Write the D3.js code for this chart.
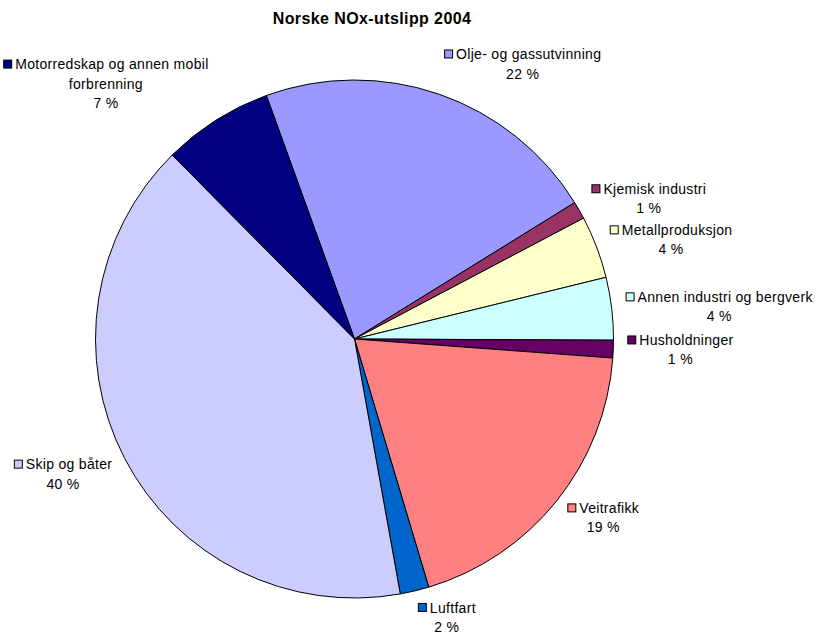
<!DOCTYPE html>
<html>
<head>
<meta charset="utf-8">
<script src="https://cdn.jsdelivr.net/npm/d3@7"></script>
<style>
  body { margin: 0; background: #fff; }
  text { font-family: Arial, "Liberation Sans", sans-serif; fill: #000; }
</style>
</head>
<body>
<script>
// Norske NOx-utslipp 2004, share per source (percent)
const categories = ['Olje- og gassutvinning', 'Kjemisk industri', 'Metallproduksjon',
  'Annen industri og bergverk', 'Husholdninger', 'Veitrafikk', 'Luftfart',
  'Skip og båter', 'Motorredskap og annen mobil forbrenning'];
const values = [21.7, 1.1, 3.9, 3.9, 1.1, 19.2, 1.8, 40.4, 6.9];
const colors = ['#9999FF', '#993366', '#FFFFCC', '#CCFFFF', '#660066',
  '#FF8080', '#0066CC', '#CCCCFF', '#000080'];

var width = 816, height = 635;
var cx = 354.5, cy = 339, radius = 259;
var startDeg = -19.9;

const data = categories.map(function(c, i) {
  return { name: c, value: values[i], color: colors[i] };
});
const total = d3.sum(values);

const svg = d3.select('body').append('svg')
  .attr('width', width)
  .attr('height', height);

svg.append('text')
  .attr('x', 372)
  .attr('y', 24)
  .attr('text-anchor', 'middle')
  .style('font-size', '16px')
  .style('font-weight', 'bold')
  .style('letter-spacing', '0.4px')
  .text('Norske NOx-utslipp 2004');

const pie = d3.pie()
  .sort(null)
  .value(function(d) { return d.value; })
  .startAngle(startDeg * Math.PI / 180)
  .endAngle((startDeg + 360) * Math.PI / 180);

const arc = d3.arc().innerRadius(0).outerRadius(radius);

const g = svg.append('g').attr('transform', 'translate(' + cx + ',' + cy + ')');

const arcs = pie(data);

g.selectAll('.slice')
  .data(arcs)
  .enter()
    .append('path')
    .attr('class', 'slice')
    .attr('d', arc)
    .attr('fill', function(d) { return d.data.color; })
    .attr('stroke', '#000')
    .attr('stroke-width', 1)
    .attr('stroke-linejoin', 'round');

// labels: square + name, then percent underneath, placed outside the slice
var fontSize = 14, spacing = '0.3px', lineH = 19.5, sq = 9, maxW = 215;

function label(sel) {
  return sel.style('font-size', fontSize + 'px').style('letter-spacing', spacing);
}

arcs.forEach(function(d) {
  var lab = g.append('g');
  // word wrap the name
  var words = d.data.name.split(' ');
  var lines = [], cur = '';
  var probe = label(lab.append('text'));
  words.forEach(function(w) {
    var test = cur ? cur + ' ' + w : w;
    probe.text(test);
    if (probe.node().getComputedTextLength() + sq + 3 > maxW && cur) {
      lines.push(cur);
      cur = w;
    } else {
      cur = test;
    }
  });
  lines.push(cur);
  probe.remove();
  lines.push(Math.round(d.data.value / total * 100) + ' %');

  // measure
  var widths = lines.map(function(t, i) {
    var tt = label(lab.append('text')).text(t);
    var w = tt.node().getComputedTextLength();
    tt.remove();
    return i === 0 ? w + sq + 3 : w;
  });
  var boxW = d3.max(widths), boxH = lines.length * lineH;

  var mid = (d.startAngle + d.endAngle) / 2;
  var s = Math.sin(mid), c = -Math.cos(mid);
  var rr = radius + 14;
  var px = rr * s, py = rr * c;
  var left = s >= 0 ? px : px - boxW;
  var k = s >= 0 ? c * Math.abs(c) : c;
  var top = py - boxH / 2 + k * boxH / 2;
  // keep the last line inside the picture
  var lastBase = top + boxH - lineH / 2 + fontSize * 0.36;
  if (cy + lastBase > height - 3) top -= cy + lastBase - (height - 3);

  lines.forEach(function(t, i) {
    var y = top + i * lineH + lineH / 2 + fontSize * 0.36;
    if (i === 0) {
      var x0 = left + (boxW - widths[0]) / 2;
      lab.append('rect')
        .attr('x', x0 + 0.5)
        .attr('y', top + lineH / 2 - sq / 2 + 0.5)
        .attr('width', sq - 1)
        .attr('height', sq - 1)
        .attr('fill', d.data.color)
        .attr('stroke', '#000')
        .attr('stroke-width', 1);
      label(lab.append('text'))
        .attr('x', x0 + sq + 3)
        .attr('y', y)
        .text(t);
    } else {
      label(lab.append('text'))
        .attr('x', left + boxW / 2)
        .attr('y', y)
        .attr('text-anchor', 'middle')
        .text(t);
    }
  });
});
</script>
</body>
</html>
